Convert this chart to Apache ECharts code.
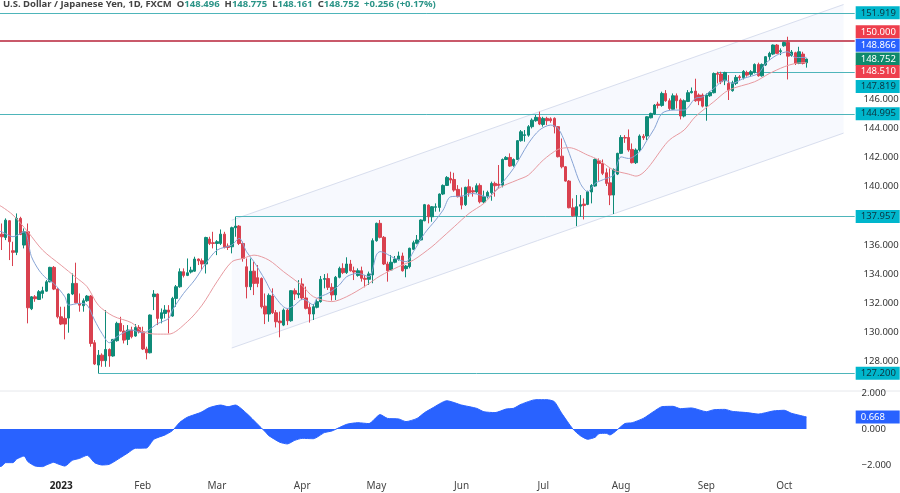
<!DOCTYPE html>
<html>

<head>
    <meta charset="utf-8">
    <title>USDJPY</title>
    <script src="https://cdn.jsdelivr.net/npm/echarts@6/dist/echarts.min.js"></script>
    <style>
        html, body { margin: 0; padding: 0; background: #fff; }
    </style>
</head>

<body>
    <div id="main" style="width: 900px;height:493px;"></div>
    <script type="text/javascript">

        // daily candles, 2022-12-09 to 2023-10-10
        var opens = [136.74,136.51,137.66,135.60,135.49,137.82,135.99,136.90,131.62,132.44,
            132.26,132.67,132.83,133.47,134.46,132.97,131.07,130.96,130.98,132.63,
            133.36,131.99,131.83,132.17,132.49,129.29,127.76,128.44,128.06,128.83,
            128.38,129.43,130.62,130.09,129.52,130.16,129.75,130.34,130.04,128.86,
            128.60,132.45,132.63,130.96,131.30,131.53,131.12,132.33,133.13,134.16,
            133.91,134.14,134.20,135.03,134.91,134.69,136.40,136.15,136.10,136.10,
            136.74,135.92,135.87,137.18,137.29,136.10,134.50,133.13,134.20,133.75,
            133.70,131.80,131.26,132.49,131.35,130.78,130.50,131.53,130.80,132.86,
            132.59,133.32,132.36,131.72,131.26,131.72,132.11,133.64,133.69,133.09,
            132.57,133.78,134.39,134.10,134.69,134.23,133.91,134.23,133.71,133.64,
            133.94,136.29,137.48,136.52,134.69,134.28,134.81,135.01,135.24,134.37,
            134.51,135.70,136.11,136.34,137.66,138.73,137.93,138.58,138.57,139.49,
            140.08,140.56,140.49,139.81,139.31,138.76,139.99,139.72,139.63,140.08,
            138.94,139.31,139.58,140.22,140.17,140.10,141.86,142.00,141.45,141.86,
            143.15,143.51,143.53,144.11,144.52,144.75,144.26,144.68,144.65,144.68,
            144.11,142.09,141.36,140.38,138.55,138.00,138.66,138.80,138.78,139.63,
            140.04,141.77,141.59,140.95,140.26,139.42,140.86,142.28,143.37,143.37,
            142.55,141.64,142.51,143.45,143.47,144.72,144.98,145.66,145.57,146.39,
            145.89,145.30,146.23,145.94,144.84,145.84,146.44,146.55,146.28,146.28,
            145.52,146.23,146.44,147.76,147.72,147.26,147.08,146.58,147.08,147.53,
            147.47,147.83,147.70,147.83,148.38,147.60,148.34,148.91,149.09,149.71,
            149.27,149.66,149.89,149.00,149.18,148.45,149.09,148.496];
        var closes = [136.56,137.70,136.22,135.49,137.82,136.72,136.90,131.69,132.44,132.31,
            132.79,132.86,133.47,134.46,132.97,131.07,130.57,130.57,132.63,133.36,
            132.03,131.87,132.17,132.49,129.24,127.83,128.44,128.06,128.83,128.38,
            129.52,130.62,130.09,129.47,130.16,129.70,130.34,130.04,128.86,128.60,
            131.19,132.63,130.96,131.35,131.53,131.39,132.33,133.13,134.16,133.91,
            134.09,134.27,135.03,134.91,134.69,136.51,136.10,136.10,136.22,136.74,
            135.83,135.83,137.18,137.29,136.10,135.07,133.13,134.20,133.36,133.36,
            131.76,131.26,132.54,131.35,130.73,130.66,131.53,130.80,132.86,132.63,
            132.68,132.36,131.65,131.26,131.76,132.11,133.64,133.69,133.09,132.57,
            133.78,134.39,134.10,134.69,134.23,134.14,134.23,133.71,133.64,134.01,
            136.29,137.48,136.52,134.69,134.23,134.81,135.03,135.24,134.23,134.55,
            135.77,136.15,136.34,137.71,138.76,137.93,138.62,138.62,139.49,140.08,
            140.63,140.45,139.76,139.31,138.73,139.95,139.58,139.63,140.06,138.96,
            139.31,139.60,140.22,140.06,140.08,141.86,142.00,141.41,141.86,143.15,
            143.76,143.56,144.11,144.56,144.75,144.29,144.68,144.52,144.52,144.11,
            142.05,141.36,140.38,138.55,138.00,138.62,138.76,138.71,139.65,140.08,
            141.86,141.59,140.91,140.22,139.42,141.18,142.28,143.37,143.33,142.51,
            141.64,142.51,143.47,143.35,144.79,145.02,145.59,145.57,146.39,145.89,
            145.36,146.23,145.89,144.84,145.89,146.44,146.53,145.89,145.89,145.52,
            146.28,146.46,147.76,147.70,147.19,147.83,146.62,147.12,147.49,147.47,
            147.90,147.65,147.88,148.38,147.60,148.38,148.91,149.14,149.71,149.14,
            149.32,149.89,148.95,149.23,148.45,149.25,148.45,148.752];
        var lows = [135.65,136.33,134.96,134.55,135.30,136.67,135.76,130.62,131.53,132.10,
            132.22,132.33,132.79,133.43,132.90,130.96,130.50,129.52,129.98,132.56,
            131.99,131.42,131.42,132.10,129.02,127.76,127.20,127.64,127.64,127.64,
            128.33,129.36,130.04,129.24,129.13,129.59,129.70,129.93,128.79,128.15,
            128.56,131.53,130.50,130.62,130.96,129.93,131.07,131.76,133.06,133.77,
            133.86,134.04,134.16,134.62,134.27,134.04,135.99,135.76,135.30,135.99,
            135.76,135.65,135.42,136.56,135.99,134.85,132.33,132.90,132.56,133.10,
            131.64,130.57,130.73,131.26,130.34,129.66,130.43,130.50,130.73,132.22,
            132.34,132.22,131.58,130.67,130.85,131.65,132.04,133.02,132.91,132.18,
            132.22,133.71,134.00,134.01,134.17,133.59,133.82,133.48,133.09,133.25,
            133.37,136.22,136.45,134.62,133.48,134.23,134.74,134.92,134.17,133.78,
            134.39,135.65,136.04,136.29,137.62,137.48,137.59,138.28,138.28,139.42,
            140.04,140.22,139.65,139.26,138.44,138.67,139.31,139.31,139.53,138.85,
            138.85,139.19,139.03,139.31,139.88,139.95,141.82,141.36,141.36,141.82,
            143.08,143.08,143.42,143.99,144.45,144.22,144.11,144.22,144.38,143.65,
            142.00,141.25,140.34,138.51,137.93,137.29,137.93,137.75,138.73,138.85,
            139.99,140.40,140.79,140.04,138.73,138.12,140.79,142.23,143.00,142.39,
            141.59,141.55,142.39,143.20,143.20,144.68,144.91,145.36,145.48,145.82,
            145.25,145.25,145.36,144.61,144.75,145.80,146.39,145.82,145.59,145.43,
            144.52,146.16,146.39,147.08,147.03,146.96,145.94,146.51,146.96,147.31,
            147.35,147.54,147.54,147.76,147.54,147.54,148.27,148.68,149.02,149.09,
            149.02,149.59,147.35,148.91,148.34,148.40,148.38,148.161];
        var highs = [137.47,137.82,137.70,136.22,138.16,137.93,137.13,137.47,132.49,132.56,
            132.90,133.13,133.59,134.50,134.55,133.02,131.76,131.76,132.67,134.04,
            134.78,132.67,132.33,132.56,132.56,129.47,128.79,128.56,131.53,128.90,
            129.54,130.73,131.07,130.50,130.50,130.39,130.57,130.50,130.39,129.02,
            131.23,132.90,132.67,131.64,131.87,131.87,132.44,133.25,134.39,134.39,
            135.07,134.50,135.19,135.07,135.07,136.56,136.56,136.90,136.33,137.06,
            136.90,136.10,137.25,137.93,137.36,136.22,135.07,135.07,134.85,134.62,
            133.77,132.67,132.67,133.02,131.53,131.42,131.64,131.64,132.90,133.02,
            133.59,133.71,133.14,131.99,131.95,132.27,133.87,134.00,134.05,133.37,
            133.87,134.51,134.74,135.15,134.97,134.51,134.39,134.51,133.94,134.17,
            136.45,137.53,137.71,136.61,134.85,135.31,135.24,135.54,135.47,134.62,
            135.81,136.29,136.68,137.75,138.81,138.78,138.67,138.85,139.53,140.15,
            140.72,141.02,140.95,140.10,139.94,139.99,140.50,139.95,140.22,140.22,
            139.72,139.72,140.34,140.34,141.48,141.93,142.09,142.28,141.93,143.19,
            143.88,143.88,144.22,144.68,144.91,145.14,144.79,144.79,144.75,144.75,
            144.15,143.30,141.41,140.45,139.19,139.42,139.42,139.19,139.72,140.17,
            141.93,141.93,141.86,141.25,141.25,141.25,142.32,143.53,143.53,143.92,
            142.96,142.62,143.58,143.60,144.84,145.07,145.66,145.82,146.51,146.62,
            146.05,146.39,146.39,146.05,145.98,146.62,146.80,147.40,146.39,146.39,
            146.39,146.55,147.83,147.88,147.88,147.88,147.65,147.26,147.65,147.65,
            147.99,147.95,147.99,148.45,148.50,148.45,148.95,149.25,149.75,149.78,
            149.48,149.94,150.28,149.37,149.25,149.59,149.25,148.775];

        // moving averages, [candle number, price] at the bends of each curve
        // candle -1 sits just off the left edge so the curves run to the border
        var fastMa = [[-1,136.95],[0,136.9],[3,136.56],[6,136.9],[8,135.19],[10,134.27],[12,133.7],[14,133.36],[17,132.44],[18,131.87],[21,131.99],
            [23,131.87],[25,130.84],[27,129.93],[29,129.29],[31,129.7],[35,130.16],[38,129.97],[42,130.6],[45,130.96],[46,131.53],
            [49,132.67],[52,133.59],[55,134.73],[58,135.64],[62,135.99],[64,136.45],[66,135.53],[68,134.84],[71,133.59],[73,132.67],
            [77,131.64],[79,131.87],[81,132.26],[82,132.22],[84,131.88],[85,132.34],[88,132.68],[91,133.25],[93,133.82],[96,134.05],
            [99,133.82],[101,135.31],[102,135.54],[106,135.08],[109,134.85],[111,135.54],[114,136.79],[117,137.71],[119,138.39],[121,139.3],
            [124,139.35],[127,139.53],[131,139.3],[134,139.99],[138,141.25],[142,142.96],[145,143.88],[148,144.22],[150,144.0],[152,142.96],
            [154,141.59],[156,140.22],[158,139.65],[160,140.22],[163,140.56],[165,140.79],[167,142.04],[169,141.93],[172,142.39],[174,143.19],
            [176,143.99],[178,145.02],[181,145.25],[184,145.25],[187,146.05],[189,146.16],[192,146.73],[195,147.31],[197,147.08],[200,147.42],
            [204,147.76],[206,148.45],[209,149.02],[212,149.25],[214,148.85],[217,148.866]];
        var slowMa = [[-1,138.75],[0,138.62],[3,138.05],[7,136.9],[11,135.64],[16,134.6],[20,133.77],[23,133.13],[26,131.87],[30,131.12],[35,130.66],
            [38,130.04],[42,129.88],[45,129.88],[50,130.73],[54,131.87],[58,133.47],[62,134.84],[65,135.07],[68,135.3],[72,134.96],
            [76,134.16],[81,133.2],[84,132.45],[89,132.11],[93,132.45],[98,133.18],[102,133.87],[107,134.51],[111,134.96],[116,135.88],
            [118,136.33],[122,137.25],[126,138.16],[130,138.85],[134,139.88],[139,140.45],[142,140.79],[146,141.82],[150,142.55],[153,142.67],
            [158,142.16],[161,141.82],[165,141.13],[169,140.86],[171,140.72],[180,143.19],[184,143.88],[187,144.79],[192,145.82],[196,146.62],
            [203,147.19],[207,147.76],[211,148.22],[214,148.45],[217,148.51]];

        // lower pane oscillator, [candle number, value]
        var oscillator = [[-1,-2.1],[0,-2.06],[1,-1.87],[3,-1.87],[4,-1.67],[6,-1.5],[7,-1.81],[9,-2.06],[11,-2.09],[12,-2.0],[14,-1.85],
            [15,-1.93],[17,-2.06],[19,-1.74],[21,-1.63],[23,-1.46],[25,-1.87],[27,-2.0],[29,-1.96],[32,-1.59],[34,-1.33],
            [36,-1.07],[39,-1.06],[41,-0.57],[44,-0.33],[46,-0.09],[48,0.37],[50,0.65],[53,0.87],[54,0.96],[56,1.19],
            [59,1.33],[61,1.24],[63,1.33],[66,0.87],[69,0.26],[71,-0.15],[72,-0.37],[75,-0.74],[77,-0.83],[79,-0.63],
            [81,-0.52],[84,-0.54],[87,-0.2],[89,-0.11],[93,0.26],[96,0.35],[99,0.3],[102,0.8],[104,0.59],[107,0.56],
            [109,0.41],[112,0.59],[114,0.91],[116,1.15],[120,1.57],[124,1.33],[128,1.15],[130,0.96],[133,0.91],[136,1.11],
            [138,1.15],[140,1.37],[144,1.63],[147,1.63],[149,1.52],[151,0.87],[154,0.0],[156,-0.37],[158,-0.57],[160,-0.46],
            [161,-0.26],[163,-0.24],[164,-0.33],[166,-0.04],[168,0.3],[170,0.35],[173,0.59],[176,1.0],[178,1.24],[181,1.26],
            [183,1.13],[186,1.17],[190,0.96],[192,1.07],[195,1.09],[197,0.98],[201,0.91],[204,0.83],[208,1.0],[211,1.04],
            [213,0.87],[217,0.668]];

        // price channel: [first candle, upper, lower, last candle, upper, lower]
        var channel = [62, 137.7, 128.93, 227, 152.49, 143.67];

        // horizontal levels: price and the candle each one starts from
        var levelPrices = [151.919, 150, 147.819, 144.995, 137.957, 127.2];
        var levelStarts = [-1, -1, 193, -1, 63, 26];

        // price tags on the right edge
        var tagPrices = [151.919, 150, 148.866, 148.752, 148.51, 147.819, 144.995, 137.957, 127.2];
        var priceTicks = [128, 130, 132, 134, 136, 140, 142, 144, 146];
        var oscTicks = [-2, 0, 2];
        var monthNames = ['2023', 'Feb', 'Mar', 'Apr', 'May', 'Jun', 'Jul', 'Aug', 'Sep', 'Oct'];

        var TEAL = '#00b6cc', RED = '#ee3f4d', BLUE = '#2962ff', GREEN = '#0f8a6c', INK = '#0c3440';
        var tagBg = [TEAL, RED, BLUE, GREEN, RED, TEAL, TEAL, TEAL, TEAL];
        var tagFg = [INK, '#fff', '#fff', '#fff', '#fff', INK, INK, INK, INK];
        var tagShift = [0, -9, -12, 0, 9, 14, 0, 0, 0];   // tags pushed apart so they do not overlap
        var FONT = 'Noto Sans';
        var SLOT = 3.708;   // px per candle
        var SLOTS = 232;    // one hidden slot on the left, 218 candles, empty space up to the price scale

        function slot(p) {
            return [p[0] + 1, p[1]];
        }

        // weekdays from the hidden slot on, month name goes on the first weekday of a month
        var categories = [], labelAt = {};
        var d = new Date(Date.UTC(2022, 11, 8)), lastMonth = 11;
        while (categories.length < SLOTS) {
            var wd = d.getUTCDay();
            if (wd !== 0 && wd !== 6) {
                if (d.getUTCMonth() !== lastMonth) {
                    lastMonth = d.getUTCMonth();
                    if (monthNames[lastMonth]) labelAt[categories.length] = monthNames[lastMonth];
                }
                categories.push(d.toISOString().slice(0, 10));
            }
            d.setUTCDate(d.getUTCDate() + 1);
        }

        var candles = opens.map(function (o, i) {
            return [o, closes[i], lows[i], highs[i]];
        });
        candles.unshift('-');

        var levelLines = levelPrices.map(function (p, i) {
            var from = { xAxis: levelStarts[i] + 1, yAxis: p };
            if (p === 150) from.lineStyle = { color: '#c9596a', width: 2, type: 'solid' };
            return [from, { xAxis: SLOTS - 1, yAxis: p }];
        });

        var myChart = echarts.init(document.getElementById('main'));

        var option = {
            animation: false,
            backgroundColor: '#fff',
            title: {
                left: 3,
                top: -1,
                padding: 0,
                text: '{t|U.S. Dollar / Japanese Yen, 1D, FXCM}{g| }{t|O}{v|148.496}{g| }{t|H}{v|148.775}{g| }{t|L}{v|148.161}{g| }{t|C}{v|148.752}{g| }{v|+0.256 (+0.17%)}',
                textStyle: {
                    rich: {
                        t: { fontFamily: FONT, fontSize: 9.5, color: '#444' },
                        v: { fontFamily: FONT, fontSize: 9.5, color: '#2a9487' },
                        g: { fontFamily: FONT, fontSize: 9.5, width: 5 }
                    }
                }
            },
            grid: [
                { left: -SLOT, width: SLOT * SLOTS, top: 0, height: 390.7, outerBoundsMode: 'none' },
                { left: -SLOT, width: SLOT * SLOTS, top: 391, height: 84, outerBoundsMode: 'none' }
            ],
            xAxis: [
                {
                    type: 'category', gridIndex: 0, data: categories,
                    axisLine: { show: false }, axisTick: { show: false }, axisLabel: { show: false }, splitLine: { show: false }
                },
                {
                    type: 'category', gridIndex: 1, data: categories,
                    axisLine: { show: false }, axisTick: { show: false }, splitLine: { show: false },
                    axisLabel: {
                        interval: 0,
                        margin: 6,
                        fontFamily: FONT,
                        fontSize: 10,
                        color: '#444',
                        hideOverlap: false,
                        formatter: function (value, index) {
                            var s = labelAt[index];
                            if (!s) return '';
                            return s === '2023' ? '{y|2023}' : s;
                        },
                        rich: { y: { fontFamily: FONT, fontSize: 10, fontWeight: 'bold', color: '#222' } }
                    }
                }
            ],
            yAxis: [
                {
                    type: 'value', gridIndex: 0, position: 'right', min: 126, max: 152.8,
                    axisLine: { show: false }, axisTick: { show: false }, splitLine: { show: false },
                    axisLabel: {
                        customValues: priceTicks,
                        margin: 7,
                        fontFamily: FONT,
                        fontSize: 9.5,
                        color: '#333',
                        formatter: function (v) { return v.toFixed(3); }
                    }
                },
                {
                    type: 'value', gridIndex: 1, position: 'right', min: -2.556, max: 2.111,
                    axisLine: { show: false }, axisTick: { show: false }, splitLine: { show: false },
                    axisLabel: {
                        customValues: oscTicks,
                        margin: 5,
                        fontFamily: FONT,
                        fontSize: 9.5,
                        color: '#333',
                        formatter: function (v) { return v.toFixed(3).replace('-', '\u2212'); }
                    }
                }
            ],
            graphic: [{
                type: 'line',
                silent: true,
                shape: { x1: 0, y1: 391, x2: 900, y2: 391 },
                style: { stroke: '#e6e8ec', lineWidth: 1 }
            }],
            series: [
                {
                    name: 'channel',
                    type: 'custom',
                    xAxisIndex: 0,
                    yAxisIndex: 0,
                    z: 1,
                    silent: true,
                    clip: true,
                    data: [[channel[0] + 1, channel[1], channel[2], channel[3] + 1, channel[4], channel[5]]],
                    encode: { x: 0, y: 1 },
                    renderItem: function (params, api) {
                        var a = api.coord([api.value(0), api.value(1)]);
                        var b = api.coord([api.value(3), api.value(4)]);
                        var c = api.coord([api.value(3), api.value(5)]);
                        var e = api.coord([api.value(0), api.value(2)]);
                        var edge = { stroke: '#d8deee', lineWidth: 1 };
                        return {
                            type: 'group',
                            children: [
                                { type: 'polygon', shape: { points: [a, b, c, e] }, style: { fill: '#f7f9fe' } },
                                { type: 'line', shape: { x1: a[0], y1: a[1], x2: b[0], y2: b[1] }, style: edge },
                                { type: 'line', shape: { x1: e[0], y1: e[1], x2: c[0], y2: c[1] }, style: edge }
                            ]
                        };
                    }
                },
                {
                    name: 'candles',
                    type: 'candlestick',
                    xAxisIndex: 0,
                    yAxisIndex: 0,
                    z: 3,
                    barWidth: 3,
                    data: candles,
                    itemStyle: {
                        color: '#0f8b78',
                        color0: '#d9414f',
                        borderColor: '#0f8b78',
                        borderColor0: '#d9414f',
                        borderWidth: 1
                    },
                    markLine: {
                        silent: true,
                        symbol: 'none',
                        z: 2,
                        label: { show: false },
                        lineStyle: { color: '#4eb5ba', type: 'solid', width: 1 },
                        data: levelLines
                    }
                },
                {
                    name: 'fast',
                    type: 'line',
                    xAxisIndex: 0,
                    yAxisIndex: 0,
                    z: 4,
                    showSymbol: false,
                    smooth: 0.3,
                    data: fastMa.map(slot),
                    lineStyle: { color: '#86a3d4', width: 1 }
                },
                {
                    name: 'slow',
                    type: 'line',
                    xAxisIndex: 0,
                    yAxisIndex: 0,
                    z: 4,
                    showSymbol: false,
                    smooth: 0.3,
                    data: slowMa.map(slot),
                    lineStyle: { color: '#e79aa0', width: 1 }
                },
                {
                    name: 'oscillator',
                    type: 'line',
                    xAxisIndex: 1,
                    yAxisIndex: 1,
                    showSymbol: false,
                    smooth: 0.2,
                    data: oscillator.map(slot),
                    lineStyle: { color: BLUE, width: 1 },
                    areaStyle: { color: BLUE, opacity: 1, origin: 0 }
                },
                {
                    name: 'osc tag',
                    type: 'scatter',
                    xAxisIndex: 1,
                    yAxisIndex: 1,
                    z: 6,
                    symbolSize: 0,
                    silent: true,
                    itemStyle: { opacity: 1 },
                    data: [[SLOTS - 1, 0.668]],
                    label: {
                        show: true,
                        position: 'right',
                        distance: 1,
                        formatter: function (p) { return p.value[1].toFixed(3); },
                        fontFamily: FONT,
                        fontSize: 9.5,
                        color: '#fff',
                        backgroundColor: BLUE,
                        padding: [2, 5, 1, 5],
                        width: 34,
                        height: 10,
                        lineHeight: 10
                    }
                },
                {
                    name: 'price tags',
                    type: 'scatter',
                    xAxisIndex: 0,
                    yAxisIndex: 0,
                    z: 6,
                    symbolSize: 0,
                    silent: true,
                    itemStyle: { opacity: 1 },
                    data: tagPrices.map(function (p, i) {
                        return {
                            value: [SLOTS - 1, p],
                            label: { offset: [0, tagShift[i]], backgroundColor: tagBg[i], color: tagFg[i] }
                        };
                    }),
                    label: {
                        show: true,
                        position: 'right',
                        distance: 1,
                        formatter: function (p) { return p.value[1].toFixed(3); },
                        fontFamily: FONT,
                        fontSize: 9.5,
                        padding: [2, 5, 1, 5],
                        width: 34,
                        height: 10,
                        lineHeight: 10
                    }
                }
            ]
        };

        myChart.setOption(option);

    </script>
</body>

</html>
